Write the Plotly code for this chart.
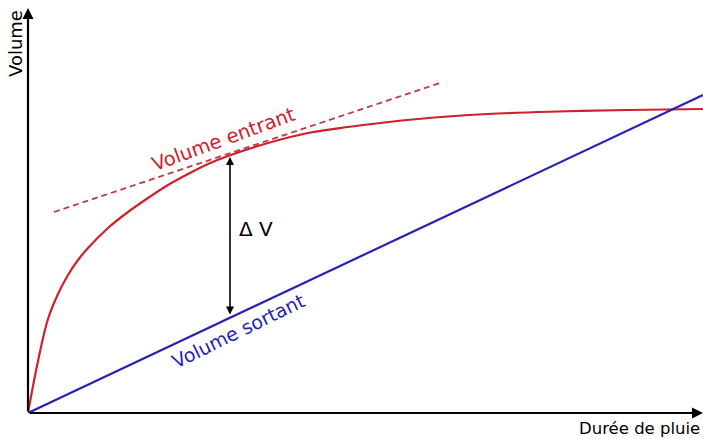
import plotly.graph_objects as go

# Data (arbitrary units: time vs volume)
duree = [0, 10, 20, 30, 40, 50, 60, 80, 100, 120, 140, 160, 180, 200, 240, 280, 320, 390, 460, 530, 600, 675]
volume_entrant = [0, 52, 94, 119, 138, 153, 165, 185, 201, 215, 228, 239, 249, 257, 270, 280, 286, 294, 299, 301.5, 303, 304]
duree_sortant = [0, 675]
volume_sortant = [0, 318]
tangente_x = [26, 412]
tangente_y = [201, 330]
delta_x = 202
delta_haut = 256
delta_bas = 97

XMAX, YMAX = 675, 405
RED = "#d0202c"
BLUE = "#2424b4"
FONT = "DejaVu Sans"

L, R, T, B = 28, 0, 8, 26
W, H = 703, 439
pw, ph = W - L - R, H - T - B


def px2paper(px, py):
    return (px - L) / pw, 1 - (py - T) / ph


fig = go.Figure()
fig.add_trace(go.Scatter(x=tangente_x, y=tangente_y, mode="lines",
                         line=dict(color="#c03848", width=1.8, dash="6px,4px"),
                         hoverinfo="skip", cliponaxis=False))
fig.add_trace(go.Scatter(x=duree, y=volume_entrant, mode="lines",
                         line=dict(color=RED, width=2.2, shape="spline", smoothing=1.0),
                         cliponaxis=False))
fig.add_trace(go.Scatter(x=duree_sortant, y=volume_sortant, mode="lines",
                         line=dict(color=BLUE, width=2.2), cliponaxis=False))

ann = []
ann.append(dict(x=0, y=YMAX, ax=0, ay=0, xref="x", yref="y", axref="x", ayref="y",
                showarrow=True, arrowhead=2, arrowsize=1, arrowwidth=2.2,
                arrowcolor="black", text=""))
ann.append(dict(x=XMAX, y=0, ax=0, ay=0, xref="x", yref="y", axref="x", ayref="y",
                showarrow=True, arrowhead=2, arrowsize=1, arrowwidth=2.2,
                arrowcolor="black", text=""))
ann.append(dict(x=delta_x, y=delta_haut, ax=delta_x, ay=delta_bas, xref="x", yref="y",
                axref="x", ayref="y", showarrow=True, arrowhead=2, arrowside="end+start",
                arrowsize=1, arrowwidth=1.6, arrowcolor="black", text=""))
ann.append(dict(x=228, y=184, xref="x", yref="y", text="Δ V", showarrow=False,
                xanchor="center", yanchor="middle",
                font=dict(family=FONT, size=20, color="black")))
ann.append(dict(x=195, y=274, xref="x", yref="y", text="Volume entrant", showarrow=False,
                xanchor="center", yanchor="middle",
                textangle=-20, font=dict(family=FONT, size=19.5, color=RED)))
ann.append(dict(x=210, y=82, xref="x", yref="y", text="Volume sortant", showarrow=False,
                xanchor="center", yanchor="middle",
                textangle=-26, font=dict(family=FONT, size=19, color=BLUE)))
x0, y0 = px2paper(15, 44)
ann.append(dict(x=x0, y=y0, xref="paper", yref="paper", text="Volume", showarrow=False,
                xanchor="center", yanchor="middle",
                textangle=-90, font=dict(family=FONT, size=18, color="black")))
x1, y1 = px2paper(639, 428)
ann.append(dict(x=x1, y=y1, xref="paper", yref="paper", text="Durée de pluie", showarrow=False,
                xanchor="center", yanchor="middle",
                font=dict(family=FONT, size=16.5, color="black")))

fig.update_layout(
    annotations=ann,
    width=W, height=H,
    margin=dict(l=L, r=R, t=T, b=B, autoexpand=False),
    paper_bgcolor="white", plot_bgcolor="white",
    showlegend=False,
    xaxis=dict(range=[0, XMAX], visible=False, fixedrange=True),
    yaxis=dict(range=[0, YMAX], visible=False, fixedrange=True),
)
post = ("document.body.style.margin='0';document.body.style.overflow='hidden';"
        "Plotly.relayout(document.getElementById('{plot_id}'),{width:703,height:439});")
fig.write_html("out.html", config={"responsive": False, "displayModeBar": False},
               post_script=post)
